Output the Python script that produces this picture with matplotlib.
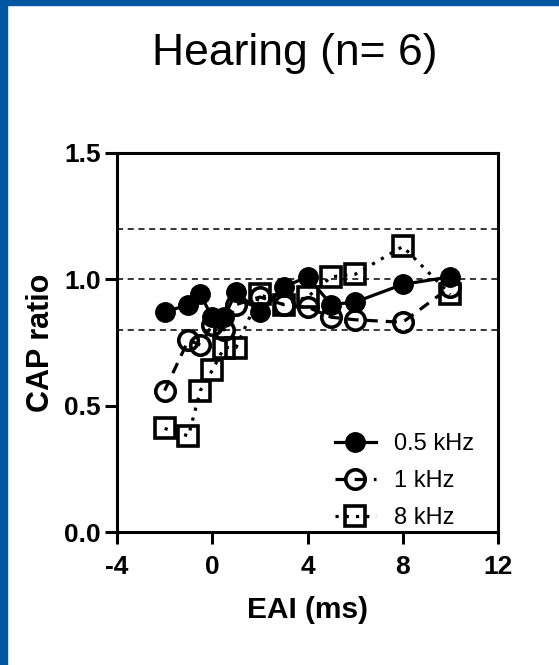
import matplotlib
matplotlib.use('Agg')
import matplotlib.pyplot as plt
from matplotlib.patches import Rectangle

plt.rcParams['font.family'] = ['Liberation Sans', 'DejaVu Sans']
plt.rcParams['axes.unicode_minus'] = False

# EAI (ms)
eai = [-2, -1, -0.5, 0, 0.5, 1, 2, 3, 4, 5, 6, 8, 10]

# CAP ratio per frequency
cap_05k = [0.87, 0.90, 0.94, 0.85, 0.85, 0.95, 0.87, 0.97, 1.01, 0.90, 0.91, 0.98, 1.01]
cap_1k = [0.56, 0.76, 0.74, 0.82, 0.80, 0.90, 0.93, 0.90, 0.89, 0.85, 0.84, 0.83, 0.97]
cap_8k = [0.41, 0.38, 0.56, 0.64, 0.73, 0.73, 0.94, 0.90, 0.93, 1.01, 1.02, 1.13, 0.94]

ref_levels = [0.8, 1.0, 1.2]
xticks = [-4, 0, 4, 8, 12]
yticks = [0.0, 0.5, 1.0, 1.5]

fig = plt.figure(figsize=(5.59, 6.65), dpi=100)
fig.patches.append(Rectangle((0, 0), 7 / 559, 1, transform=fig.transFigure,
                             color='#0156a2', zorder=-1))
fig.patches.append(Rectangle((0, 1 - 5 / 665), 1, 5 / 665, transform=fig.transFigure,
                             color='#0156a2', zorder=-1))

ax = fig.add_axes([117 / 559, 1 - 532 / 665, 381 / 559, 379 / 665])

for lvl in ref_levels:
    ax.axhline(lvl, color='black', lw=1.1, ls=(0, (4, 3)), zorder=1)

ms = 14
mew = 2.6
ax.plot(eai, cap_05k, color='black', lw=2.3, ls='-', marker='o', ms=ms,
        mfc='black', mec='black', label='0.5 kHz', zorder=4)
ax.plot(eai, cap_1k, color='black', lw=2.3, ls=(0, (3.5, 2.5)), marker='o', ms=ms,
        mfc='none', mec='black', mew=mew, label='1 kHz', zorder=3)
ax.plot(eai, cap_8k, color='black', lw=2.3, ls=(0, (1, 2.2)), marker='s', ms=ms,
        mfc='none', mec='black', mew=mew, label='8 kHz', zorder=3)

ax.set_xlim(-4, 12)
ax.set_ylim(0, 1.5)
ax.set_xticks(xticks)
ax.set_yticks(yticks)
ax.set_yticklabels(['%.1f' % v for v in yticks])
for s in ax.spines.values():
    s.set_linewidth(2.2)
ax.tick_params(width=2.2, length=8.5, labelsize=19)
ax.tick_params(axis='x', pad=8)
ax.tick_params(axis='y', pad=3)
for lab in ax.get_xticklabels() + ax.get_yticklabels():
    lab.set_fontweight('bold')

ax.set_xlabel('EAI (ms)', fontsize=21.5, fontweight='bold', labelpad=12)
ax.set_ylabel('CAP ratio', fontsize=22, fontweight='bold', labelpad=6)

fig.text(0.528, 1 - 54 / 665, 'Hearing (n= 6)', fontsize=32, ha='center', va='center')

ax.legend(loc='lower right', bbox_to_anchor=(0.955, -0.012), frameon=False, fontsize=17,
          handlelength=1.75, handletextpad=0.75, labelspacing=0.65, borderaxespad=0.0,
          borderpad=0.3)

fig.savefig('out.png', dpi=100)
